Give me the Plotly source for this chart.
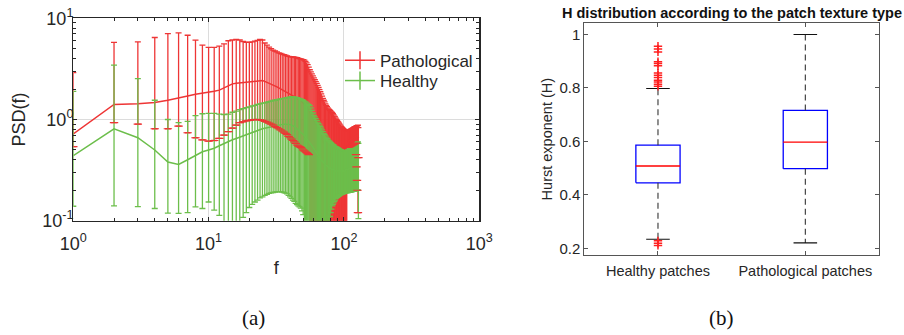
import plotly.graph_objects as go

# ---------------- (a) PSD data ----------------
freq = list(range(1, 129))

path_mean = [
    0.72, 1.41, 1.43, 1.47, 1.55, 1.65, 1.71, 1.78, 1.82, 1.85, 1.90, 1.95, 2.05, 2.15, 2.25, 2.28,
    2.30, 2.32, 2.34, 2.35, 2.37, 2.40, 2.42, 2.44, 2.43, 2.38, 2.33, 2.29, 2.25, 2.20, 2.15, 2.10,
    2.05, 2.00, 1.96, 1.92, 1.88, 1.84, 1.80, 1.77, 1.74, 1.71, 1.68, 1.65, 1.62, 1.59, 1.56, 1.53,
    1.50, 1.46, 1.42, 1.38, 1.34, 1.30, 1.25, 1.20, 1.15, 1.10, 1.05, 1.00, 0.95, 0.90, 0.86, 0.82,
    0.78, 0.74, 0.70, 0.67, 0.64, 0.61, 0.58, 0.56, 0.54, 0.52, 0.50, 0.48, 0.47, 0.46, 0.45, 0.44,
    0.43, 0.42, 0.41, 0.40, 0.39, 0.39, 0.38, 0.38, 0.37, 0.37, 0.36, 0.36, 0.37, 0.38, 0.39, 0.39,
    0.40, 0.41, 0.42, 0.43, 0.44, 0.45, 0.47, 0.49, 0.52, 0.58, 0.60, 0.61, 0.62, 0.62, 0.63, 0.63,
    0.64, 0.64, 0.65, 0.65, 0.66, 0.66, 0.67, 0.67, 0.68, 0.68, 0.68, 0.69, 0.69, 0.70, 0.70, 0.66,
]
path_hi = [
    2.91, 5.77, 5.85, 6.46, 7.07, 7.17, 6.80, 6.08, 5.42, 5.15, 5.15, 5.30, 5.60, 6.00, 6.10, 6.20,
    6.10, 5.90, 5.80, 5.77, 5.85, 5.95, 6.05, 6.20, 6.10, 5.70, 5.42, 5.20, 5.00, 4.84, 4.75, 4.65,
    4.55, 4.50, 4.42, 4.38, 4.32, 4.26, 4.20, 4.18, 4.16, 4.15, 4.12, 4.10, 4.08, 4.05, 4.00, 3.97,
    3.93, 3.90, 3.86, 3.75, 3.62, 3.48, 3.30, 3.10, 2.95, 2.82, 2.70, 2.58, 2.47, 2.37, 2.28, 2.17,
    2.07, 1.97, 1.88, 1.79, 1.70, 1.62, 1.55, 1.49, 1.43, 1.38, 1.34, 1.30, 1.27, 1.25, 1.23, 1.21,
    1.19, 1.17, 1.14, 1.11, 1.08, 1.06, 1.03, 1.00, 0.98, 0.96, 0.94, 0.92, 0.90, 0.88, 0.86, 0.85,
    0.83, 0.82, 0.81, 0.80, 0.79, 0.78, 0.78, 0.77, 0.77, 0.77, 0.78, 0.78, 0.78, 0.79, 0.79, 0.80,
    0.80, 0.81, 0.81, 0.82, 0.82, 0.83, 0.84, 0.84, 0.85, 0.85, 0.86, 0.86, 0.87, 0.87, 0.88, 0.83,
]
path_lo = [
    0.54, 0.93, 0.90, 0.81, 0.81, 0.86, 0.74, 0.66, 0.63, 0.61, 0.62, 0.65, 0.70, 0.76, 0.82, 0.88,
    0.93, 0.95, 0.97, 0.98, 0.99, 1.00, 1.00, 0.99, 0.98, 0.96, 0.94, 0.92, 0.90, 0.88, 0.85, 0.83,
    0.81, 0.79, 0.77, 0.75, 0.73, 0.71, 0.68, 0.66, 0.64, 0.62, 0.60, 0.58, 0.56, 0.55, 0.54, 0.53,
    0.52, 0.50, 0.49, 0.48, 0.47, 0.46, 0.45, 0.06, 0.05, 0.06, 0.05, 0.06, 0.05, 0.05, 0.06, 0.05,
    0.05, 0.06, 0.05, 0.05, 0.06, 0.05, 0.06, 0.05, 0.05, 0.06, 0.05, 0.05, 0.06, 0.05, 0.05, 0.06,
    0.05, 0.05, 0.06, 0.05, 0.05, 0.06, 0.05, 0.05, 0.06, 0.05, 0.05, 0.06, 0.05, 0.05, 0.06, 0.05,
    0.05, 0.06, 0.05, 0.05, 0.06, 0.05, 0.05, 0.06, 0.05, 0.53, 0.54, 0.53, 0.54, 0.54, 0.55, 0.55,
    0.55, 0.56, 0.56, 0.56, 0.57, 0.57, 0.57, 0.58, 0.58, 0.58, 0.45, 0.34, 0.25, 0.20, 0.12, 0.42,
]

heal_mean = [
    0.44, 0.81, 0.66, 0.50, 0.38, 0.36, 0.40, 0.44, 0.48, 0.50, 0.52, 0.55, 0.58, 0.61, 0.63, 0.65,
    0.67, 0.69, 0.71, 0.73, 0.75, 0.77, 0.78, 0.80, 0.81, 0.82, 0.83, 0.84, 0.85, 0.86, 0.87, 0.88,
    0.88, 0.89, 0.89, 0.90, 0.90, 0.90, 0.90, 0.89, 0.88, 0.87, 0.85, 0.83, 0.81, 0.79, 0.77, 0.75,
    0.73, 0.71, 0.69, 0.67, 0.65, 0.63, 0.61, 0.59, 0.57, 0.55, 0.53, 0.51, 0.49, 0.47, 0.45, 0.44,
    0.43, 0.42, 0.41, 0.40, 0.39, 0.38, 0.37, 0.36, 0.36, 0.35, 0.35, 0.34, 0.34, 0.33, 0.33, 0.33,
    0.32, 0.32, 0.32, 0.32, 0.31, 0.31, 0.31, 0.31, 0.31, 0.31, 0.31, 0.31, 0.31, 0.31, 0.31, 0.31,
    0.31, 0.31, 0.31, 0.31, 0.31, 0.31, 0.32, 0.32, 0.32, 0.32, 0.32, 0.32, 0.33, 0.33, 0.33, 0.33,
    0.33, 0.34, 0.34, 0.34, 0.34, 0.35, 0.35, 0.35, 0.35, 0.36, 0.36, 0.36, 0.36, 0.37, 0.37, 0.34,
]
heal_hi = [
    1.90, 3.44, 2.54, 1.55, 1.00, 0.93, 0.96, 1.09, 1.14, 1.15, 1.15, 1.13, 1.12, 1.13, 1.18, 1.21,
    1.25, 1.28, 1.31, 1.33, 1.36, 1.38, 1.41, 1.43, 1.45, 1.46, 1.48, 1.50, 1.52, 1.54, 1.55, 1.57,
    1.58, 1.60, 1.61, 1.62, 1.63, 1.64, 1.65, 1.66, 1.67, 1.67, 1.66, 1.65, 1.64, 1.63, 1.61, 1.59,
    1.57, 1.55, 1.52, 1.49, 1.46, 1.43, 1.40, 1.37, 1.30, 1.23, 1.16, 1.10, 1.06, 1.02, 0.98, 0.94,
    0.91, 0.88, 0.85, 0.82, 0.79, 0.76, 0.73, 0.71, 0.69, 0.67, 0.65, 0.64, 0.62, 0.61, 0.60, 0.59,
    0.58, 0.57, 0.56, 0.56, 0.55, 0.54, 0.54, 0.53, 0.53, 0.52, 0.52, 0.51, 0.51, 0.50, 0.50, 0.50,
    0.49, 0.49, 0.49, 0.49, 0.49, 0.49, 0.49, 0.49, 0.49, 0.49, 0.50, 0.50, 0.50, 0.51, 0.51, 0.52,
    0.52, 0.53, 0.53, 0.54, 0.54, 0.55, 0.55, 0.56, 0.56, 0.57, 0.57, 0.58, 0.58, 0.59, 0.60, 0.58,
]
heal_lo = [
    0.139, 0.140, 0.138, 0.132, 0.119, 0.118, 0.120, 0.137, 0.132, 0.153, 0.127, 0.113, 0.090, 0.080, 0.070, 0.085,
    0.098, 0.108, 0.120, 0.135, 0.145, 0.153, 0.160, 0.168, 0.172, 0.178, 0.182, 0.186, 0.188, 0.190, 0.192, 0.193,
    0.194, 0.194, 0.192, 0.190, 0.187, 0.184, 0.178, 0.172, 0.166, 0.160, 0.155, 0.148, 0.144, 0.140, 0.137, 0.133,
    0.125, 0.115, 0.060, 0.055, 0.060, 0.055, 0.060, 0.055, 0.060, 0.055, 0.060, 0.055, 0.060, 0.055, 0.060, 0.055,
    0.060, 0.055, 0.060, 0.055, 0.060, 0.055, 0.060, 0.055, 0.060, 0.055, 0.060, 0.055, 0.080, 0.095, 0.110, 0.120,
    0.130, 0.140, 0.145, 0.150, 0.155, 0.160, 0.165, 0.168, 0.170, 0.172, 0.174, 0.176, 0.178, 0.180, 0.181, 0.182,
    0.183, 0.184, 0.185, 0.186, 0.187, 0.188, 0.188, 0.189, 0.189, 0.190, 0.190, 0.191, 0.191, 0.192, 0.192, 0.193,
    0.193, 0.194, 0.194, 0.195, 0.195, 0.196, 0.196, 0.197, 0.197, 0.198, 0.198, 0.199, 0.199, 0.200, 0.200, 0.105,
]

psd_x_tickvals = [1, 10, 100, 1000]
psd_x_ticktext = ["10<sup>0</sup>", "10<sup>1</sup>", "10<sup>2</sup>", "10<sup>3</sup>"]
psd_y_tickvals = [0.1, 1, 10]
psd_y_ticktext = ["10<sup>-1</sup>", "10<sup>0</sup>", "10<sup>1</sup>"]

# ---------------- (b) boxplot data ----------------
box_categories = ["Healthy patches", "Pathological patches"]
box_q1 = [0.445, 0.498]
box_median = [0.508, 0.597]
box_q3 = [0.586, 0.716]
box_whisker_low = [0.234, 0.220]
box_whisker_high = [0.798, 1.000]
box_outliers = [
    [0.956, 0.946, 0.935, 0.898, 0.892, 0.883, 0.856, 0.848, 0.839, 0.829,
     0.822, 0.814, 0.806, 0.228, 0.219, 0.211],
    [],
]
box_yticks = [0.2, 0.4, 0.6, 0.8, 1.0]
box_yticktext = ["0.2", "0.4", "0.6", "0.8", "1"]

# ---------------- styles ----------------
RED = "#ee3535"
GREEN = "#6cbe4b"
AXC = "#262626"
FONT = "Liberation Sans, Arial, sans-serif"

fig = go.Figure()

def err_plus(hi, m):
    return [h - v for h, v in zip(hi, m)]

def err_minus(m, lo):
    return [v - l for v, l in zip(m, lo)]

fig.add_trace(go.Scatter(
    x=freq, y=path_mean, mode="lines", name="Pathological",
    line=dict(color=RED, width=1.5), showlegend=False,
    error_y=dict(type="data", symmetric=False, array=err_plus(path_hi, path_mean),
                 arrayminus=err_minus(path_mean, path_lo), color=RED, thickness=1.3, width=3),
    xaxis="x", yaxis="y", hoverinfo="skip"))
fig.add_trace(go.Scatter(
    x=freq, y=heal_mean, mode="lines", name="Healthy",
    line=dict(color=GREEN, width=1.5), showlegend=False,
    error_y=dict(type="data", symmetric=False, array=err_plus(heal_hi, heal_mean),
                 arrayminus=err_minus(heal_mean, heal_lo), color=GREEN, thickness=1.3, width=3),
    xaxis="x", yaxis="y", hoverinfo="skip"))
# lower caps of the pathological bars (drawn over the healthy bars, as in the original)
fig.add_trace(go.Scatter(
    x=freq, y=path_lo, mode="markers", showlegend=False, hoverinfo="skip",
    marker=dict(symbol="line-ew", size=6, color=RED, line=dict(color=RED, width=1.2)),
    xaxis="x", yaxis="y"))
# legend entries (one legend per entry so that the spacing can follow the original)
for nm, col, lg in (("Pathological", RED, "legend"), ("Healthy", GREEN, "legend2")):
    fig.add_trace(go.Scatter(
        x=[None], y=[None], mode="lines+markers", name=nm, legend=lg,
        line=dict(color=col, width=1.5),
        marker=dict(symbol="line-ns", size=13, color=col, line=dict(color=col, width=1.5)),
        xaxis="x", yaxis="y"))

# ---------------- boxplot ----------------
HW = 0.15   # box half width
CW = 0.08   # whisker cap half width
for i, cat in enumerate(box_categories):
    p = i + 1
    fig.add_trace(go.Scatter(
        x=[p - HW, p + HW, p + HW, p - HW, p - HW],
        y=[box_q1[i], box_q1[i], box_q3[i], box_q3[i], box_q1[i]],
        mode="lines", line=dict(color="#0000ff", width=1.3), showlegend=False,
        hoverinfo="skip", xaxis="x2", yaxis="y2"))
    fig.add_trace(go.Scatter(
        x=[p, p, None, p, p],
        y=[box_q3[i], box_whisker_high[i], None, box_q1[i], box_whisker_low[i]],
        mode="lines", line=dict(color="#333333", width=1.1, dash="6px,4px"), showlegend=False,
        hoverinfo="skip", xaxis="x2", yaxis="y2"))
    fig.add_trace(go.Scatter(
        x=[p - CW, p + CW, None, p - CW, p + CW],
        y=[box_whisker_high[i], box_whisker_high[i], None, box_whisker_low[i], box_whisker_low[i]],
        mode="lines", line=dict(color="#111111", width=1.2), showlegend=False,
        hoverinfo="skip", xaxis="x2", yaxis="y2"))
    fig.add_trace(go.Scatter(
        x=[p - HW, p + HW], y=[box_median[i], box_median[i]],
        mode="lines", line=dict(color="#ff0000", width=1.3), showlegend=False,
        hoverinfo="skip", xaxis="x2", yaxis="y2"))
    if box_outliers[i]:
        fig.add_trace(go.Scatter(
            x=[p] * len(box_outliers[i]), y=box_outliers[i], mode="markers",
            marker=dict(symbol="cross-thin", size=6, line=dict(color="#ff2020", width=1.5)),
            showlegend=False, hoverinfo="skip", xaxis="x2", yaxis="y2"))

minor_x = [m * d for d in (1, 10, 100) for m in range(2, 10)]
minor_y = [m * d for d in (0.1, 1) for m in range(2, 10)]

W, H = 904, 335
legend_style = dict(xanchor="left", yanchor="middle", bgcolor="rgba(0,0,0,0)",
                    font=dict(size=17, color=AXC), itemwidth=30)
fig.update_layout(
    width=W, height=H,
    margin=dict(l=0, r=0, t=0, b=0, pad=0, autoexpand=False),
    paper_bgcolor="white", plot_bgcolor="white",
    font=dict(family=FONT, color=AXC),
    hovermode=False,
    showlegend=True,
    legend=dict(x=340 / W, y=1 - 60.7 / H, **legend_style),
    legend2=dict(x=340 / W, y=1 - 81 / H, **legend_style),
    xaxis=dict(type="log", range=[0, 3], domain=[73.3 / W, 479.2 / W], anchor="y",
               automargin=False,
               tickvals=psd_x_tickvals, ticktext=psd_x_ticktext,
               ticks="inside", ticklen=4, tickcolor=AXC, tickwidth=1,
               showline=True, linecolor=AXC, linewidth=1.3, mirror="ticks",
               showgrid=True, gridcolor="#dcdcdc", gridwidth=1, zeroline=False,
               minor=dict(tickvals=minor_x, ticks="inside", ticklen=3, tickcolor=AXC, showgrid=False),
               tickfont=dict(size=18, color=AXC), ticklabelstandoff=6,
               title=dict(text="f", font=dict(size=18, color=AXC), standoff=8)),
    yaxis=dict(type="log", range=[-1, 1], domain=[1 - 220.7 / H, 1 - 18.3 / H], anchor="x",
               automargin=False,
               tickvals=psd_y_tickvals, ticktext=psd_y_ticktext,
               ticks="inside", ticklen=4, tickcolor=AXC, tickwidth=1,
               showline=True, linecolor=AXC, linewidth=1.3, mirror="ticks",
               showgrid=True, gridcolor="#dcdcdc", gridwidth=1, zeroline=False,
               minor=dict(tickvals=minor_y, ticks="inside", ticklen=3, tickcolor=AXC, showgrid=False),
               tickfont=dict(size=18, color=AXC), ticklabelstandoff=-5,
               title=dict(text="PSD(f)", font=dict(size=18, color=AXC), standoff=12)),
    xaxis2=dict(range=[0.5, 2.5], domain=[584.3 / W, 879 / W], anchor="y2",
                automargin=False,
                tickvals=[1, 2], ticktext=box_categories,
                ticks="inside", ticklen=4, tickcolor="#555555",
                showline=True, linecolor="#555555", linewidth=1, mirror="ticks",
                showgrid=False, zeroline=False,
                tickfont=dict(size=14.5, color=AXC), ticklabelstandoff=3),
    yaxis2=dict(range=[0.175, 1.042], domain=[1 - 255 / H, 1 - 23.3 / H], anchor="x2",
                automargin=False,
                tickvals=box_yticks, ticktext=box_yticktext,
                ticks="inside", ticklen=4, tickcolor="#555555",
                showline=True, linecolor="#555555", linewidth=1, mirror="ticks",
                showgrid=False, zeroline=False,
                tickfont=dict(size=15, color=AXC),
                title=dict(text="Hurst exponent (H)", font=dict(size=14.5, color=AXC), standoff=3)),
    annotations=[
        dict(text="<b>H distribution according to the patch texture type</b>",
             x=732 / W, y=1 - 13 / H, xref="paper", yref="paper", showarrow=False,
             xanchor="center", yanchor="middle", font=dict(size=14.5, color="#111111", family=FONT)),
        dict(text="(a)", x=253 / W, y=1 - 318 / H, xref="paper", yref="paper", showarrow=False,
             xanchor="center", yanchor="middle",
             font=dict(size=21, color="#111111", family="Liberation Serif, DejaVu Serif, serif")),
        dict(text="(b)", x=721 / W, y=1 - 318 / H, xref="paper", yref="paper", showarrow=False,
             xanchor="center", yanchor="middle",
             font=dict(size=21, color="#111111", family="Liberation Serif, DejaVu Serif, serif")),
    ],
)

# place the figure at the page origin (the page body has a default 8px margin)
fig.write_html("out.html", config={"displayModeBar": False, "staticPlot": True},
               post_script="document.body.style.margin='0px';")
